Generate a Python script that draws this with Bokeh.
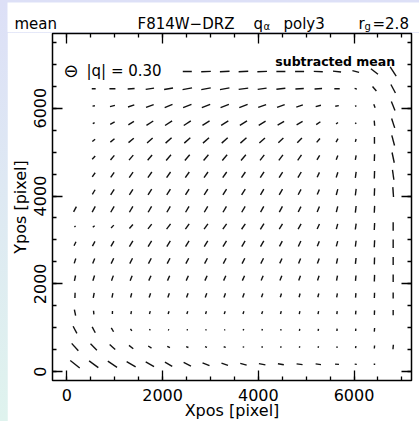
import math
import re
from bokeh.plotting import figure
from bokeh.layouts import column
from bokeh.models import Range1d, LinearAxis, SingleIntervalTicker, Label, ColumnDataSource
from bokeh.embed import file_html
from bokeh.resources import INLINE

# ---------------- data ----------------
XR = (-300, 7200)
YR = (-200, 7700)

x_centers = [170, 561, 952, 1343, 1734, 2125, 2516, 2907, 3298, 3689,
             4080, 4471, 4862, 5253, 5644, 6035, 6426, 6817]
y_centers = [170, 562, 954, 1346, 1738, 2130, 2522, 2914, 3306, 3698,
             4090, 4482, 4874, 5266, 5658, 6050, 6442, 6834]

N = None
# |q| per grid cell, rows from bottom (y_centers[0]) to top
q_rows = [
    [0.40, 0.38, 0.37, 0.35, 0.32, 0.28, 0.27, 0.25, 0.23, 0.22, 0.22, 0.20, 0.20, 0.18, 0.13, 0.07, 0.05, N],
    [0.33, 0.30, 0.25, 0.18, 0.13, 0.10, 0.08, 0.07, 0.07, 0.05, 0.05, 0.05, 0.05, 0.05, 0.05, 0.07, 0.10, 0.15],
    [0.27, 0.22, 0.15, 0.08, 0.05, 0.04, 0.04, 0.04, 0.04, 0.05, 0.05, 0.05, 0.07, 0.07, 0.08, 0.08, 0.12, N],
    [0.20, 0.12, 0.10, 0.10, 0.10, 0.10, 0.10, 0.10, 0.10, 0.10, 0.10, 0.10, 0.10, 0.10, 0.10, 0.12, 0.15, 0.18],
    [0.18, 0.17, 0.15, 0.15, 0.15, 0.15, 0.15, 0.15, 0.15, 0.15, 0.13, 0.13, 0.13, 0.13, 0.13, 0.15, 0.18, 0.20],
    [0.18, 0.18, 0.18, 0.18, 0.18, 0.18, 0.18, 0.18, 0.18, 0.18, 0.17, 0.17, 0.17, 0.17, 0.17, 0.18, 0.22, 0.25],
    [0.17, 0.18, 0.20, 0.20, 0.20, 0.20, 0.20, 0.20, 0.20, 0.20, 0.20, 0.18, 0.18, 0.18, 0.18, 0.20, 0.23, 0.27],
    [0.15, 0.18, 0.20, 0.22, 0.22, 0.22, 0.22, 0.22, 0.22, 0.22, 0.22, 0.20, 0.20, 0.18, 0.18, 0.20, 0.23, 0.28],
    [0.05, 0.08, 0.13, 0.18, 0.20, 0.22, 0.22, 0.22, 0.22, 0.22, 0.22, 0.20, 0.20, 0.18, 0.18, 0.20, 0.23, 0.28],
    [0.20, 0.22, 0.23, 0.23, 0.23, 0.23, 0.23, 0.23, 0.23, 0.23, 0.22, 0.22, 0.20, 0.20, 0.20, 0.22, 0.23, N],
    [N, 0.18, 0.22, 0.22, 0.23, 0.23, 0.23, 0.23, 0.23, 0.23, 0.22, 0.22, 0.20, 0.18, 0.20, 0.22, 0.25, 0.33],
    [N, 0.17, 0.20, 0.22, 0.23, 0.23, 0.23, 0.23, 0.23, 0.23, 0.23, 0.22, 0.22, 0.18, 0.18, 0.20, 0.25, 0.33],
    [N, 0.15, 0.20, 0.22, 0.23, 0.25, 0.25, 0.25, 0.25, 0.25, 0.23, 0.23, 0.22, 0.18, 0.15, 0.15, 0.23, 0.35],
    [N, 0.12, 0.18, 0.23, 0.25, 0.27, 0.27, 0.27, 0.27, 0.27, 0.25, 0.23, 0.22, 0.17, 0.13, 0.10, 0.22, 0.35],
    [N, 0.07, 0.17, 0.22, 0.27, 0.28, 0.28, 0.28, 0.28, 0.28, 0.27, 0.25, 0.23, 0.17, 0.08, 0.05, 0.17, 0.33],
    [N, 0.08, 0.17, 0.22, 0.27, 0.28, 0.30, 0.30, 0.30, 0.30, 0.28, 0.27, 0.23, 0.18, 0.12, 0.05, 0.13, 0.32],
    [N, 0.13, 0.20, 0.23, 0.28, 0.30, 0.32, 0.32, 0.32, 0.32, 0.30, 0.30, 0.28, 0.25, 0.18, 0.08, 0.20, 0.32],
    [N, N, N, N, N, N, 0.30, 0.32, 0.32, 0.32, 0.32, 0.30, 0.30, 0.30, 0.27, 0.23, 0.30, 0.37],
]
# position angle of q (degrees, counter-clockwise from +x), same layout
ang_rows = [
    [-38, -36, -34, -31, -30, -30, -26, -22, -19, -15, -12, -10, -8, -7, -5, -5, 0, N],
    [-48, -45, -42, -38, -32, -28, -22, -18, -15, -10, 0, 30, 60, 70, 80, 82, 85, 85],
    [-62, -62, -60, -55, -40, -20, 0, 20, 40, 60, 70, 75, 80, 80, 85, 85, 85, N],
    [-78, -85, 88, 80, 75, 72, 72, 72, 72, 72, 72, 75, 78, 78, 82, 85, 87, 90],
    [88, 80, 78, 75, 72, 70, 70, 70, 70, 70, 70, 72, 75, 75, 80, 85, 88, 90],
    [78, 72, 70, 68, 66, 66, 66, 66, 66, 66, 67, 68, 70, 72, 80, 85, 88, 90],
    [72, 68, 65, 63, 62, 62, 62, 62, 62, 63, 63, 65, 68, 70, 78, 84, 88, 90],
    [65, 62, 60, 58, 58, 58, 58, 58, 58, 60, 60, 62, 65, 68, 75, 83, 87, 90],
    [30, 40, 45, 50, 52, 53, 55, 55, 55, 56, 57, 58, 60, 65, 75, 82, 87, 90],
    [62, 62, 60, 60, 60, 60, 60, 60, 60, 60, 61, 62, 63, 68, 76, 83, 87, N],
    [N, 60, 58, 58, 58, 58, 58, 58, 58, 58, 60, 60, 62, 67, 75, 83, 88, -86],
    [N, 55, 55, 55, 55, 55, 55, 55, 55, 56, 57, 58, 60, 65, 72, 82, 88, -82],
    [N, 48, 50, 50, 50, 50, 50, 50, 50, 50, 52, 53, 55, 60, 70, 80, 88, -78],
    [N, 40, 40, 40, 42, 42, 42, 42, 42, 42, 42, 43, 45, 50, 60, 75, 90, -75],
    [N, 30, 30, 32, 33, 33, 33, 32, 32, 32, 32, 30, 30, 35, 40, 60, -85, -72],
    [N, 10, 15, 18, 20, 22, 22, 22, 22, 22, 20, 20, 18, 15, 10, 30, -70, -68],
    [N, 0, 0, 5, 8, 10, 10, 10, 10, 8, 8, 6, 4, 3, 0, -20, -50, -62],
    [N, N, N, N, N, N, 0, 2, 3, 3, 2, 0, 0, -2, -6, -15, -38, -57],
]

title_parts = ["mean", "F814W\u2212DRZ", "q", "\u03b1", "poly3", "r", "g", "=2.8"]
corner_text = "subtracted  mean"
ref_q = 0.30
ref_symbol = "\u2296"
ref_text = "|q| = %.2f" % ref_q
x_label = "Xpos [pixel]"
y_label = "Ypos [pixel]"

PX_PER_Q = 30.0  # whisker length in screen pixels per unit |q|
FONT = "DejaVu Sans"

# ---------------- whiskers ----------------
xs, ys, sz, an = [], [], [], []
for j, yv in enumerate(y_centers):
    for i, xv in enumerate(x_centers):
        q = q_rows[j][i]
        a = ang_rows[j][i]
        if q is None or a is None:
            continue
        xs.append(xv)
        ys.append(yv)
        sz.append(q * PX_PER_Q)
        an.append(math.radians(a))
src = ColumnDataSource(dict(x=xs, y=ys, size=sz, angle=an))

W = 412
p = figure(frame_width=359, frame_height=347,
           x_range=Range1d(*XR), y_range=Range1d(*YR),
           output_backend="svg", toolbar_location=None,
           min_border_left=44, min_border_right=9,
           min_border_top=1, min_border_bottom=41,
           background_fill_color="white", border_fill_color="white",
           outline_line_color="black", outline_line_width=1.5)
p.grid.visible = False

p.scatter(x="x", y="y", size="size", angle="angle", marker="dash",
          line_color="#111111", line_width=1.4, source=src)


def style_axis(ax, show_labels):
    ax.ticker = SingleIntervalTicker(interval=2000, num_minor_ticks=4)
    ax.axis_line_color = None
    ax.major_tick_in = 10
    ax.major_tick_out = 0
    ax.minor_tick_in = 4
    ax.minor_tick_out = 0
    ax.major_tick_line_color = "black"
    ax.minor_tick_line_color = "black"
    ax.major_tick_line_width = 1.3
    ax.minor_tick_line_width = 1.3
    if show_labels:
        ax.major_label_text_font = FONT
        ax.major_label_text_font_size = "16px"
        ax.major_label_text_color = "black"
        ax.axis_label_text_font = FONT
        ax.axis_label_text_font_size = "16px"
        ax.axis_label_text_font_style = "normal"
        ax.axis_label_text_color = "black"
    else:
        ax.major_label_text_font_size = "1px"
        ax.major_label_text_color = None
        ax.major_label_standoff = 0


xa = p.xaxis[0]
ya = p.yaxis[0]
style_axis(xa, True)
style_axis(ya, True)
xa.major_label_standoff = 8
xa.axis_label = x_label
xa.axis_label_standoff = -3
ya.major_label_standoff = 6
ya.major_label_orientation = "vertical"
ya.axis_label = y_label
ya.axis_label_standoff = 2

for loc in ("above", "right"):
    ax = LinearAxis()
    style_axis(ax, False)
    p.add_layout(ax, loc)

L0, R0 = XR
B0, T0 = YR
p.add_layout(Label(x=R0, y=T0, x_offset=-12, y_offset=-28, text=corner_text,
                   text_font=FONT, text_font_size="12.5px", text_font_style="bold",
                   text_color="black", text_align="right", text_baseline="alphabetic"))
p.add_layout(Label(x=L0, y=T0, x_offset=11, y_offset=-37, text=ref_symbol,
                   text_font=FONT, text_font_size="18px",
                   text_color="black", text_align="left", text_baseline="alphabetic"))
p.add_layout(Label(x=L0, y=T0, x_offset=34, y_offset=-37, text=ref_text,
                   text_font=FONT, text_font_size="15px",
                   text_color="black", text_align="left", text_baseline="alphabetic"))

# ---------------- title strip ----------------
TH = 30
t = figure(width=W, height=TH, x_range=Range1d(0, W), y_range=Range1d(0, TH),
           output_backend="svg", toolbar_location=None, min_border=0,
           x_axis_location=None, y_axis_location=None,
           background_fill_color="white", border_fill_color="white",
           outline_line_color=None, frame_align=False)
t.grid.visible = False
tx = [7, 130, 246, 256, 276, 351, 357, 365]
ty = [9, 9, 9, 6, 9, 9, 6, 9]
tsz = ["15px", "15px", "15px", "10px", "15px", "15px", "10px", "15px"]
for txt, x0, y0, fs in zip(title_parts, tx, ty, tsz):
    t.add_layout(Label(x=x0, y=y0, text=txt, text_font=FONT, text_font_size=fs,
                       text_color="black", text_align="left", text_baseline="alphabetic"))

layout = column(t, p, spacing=0)

html = file_html(layout, INLINE)
head, sep, rest = html.partition("</head>")
rest = re.sub(
    r"<body[^>]*>",
    '<body style="padding:2px 0 0 7px; margin:0; overflow:hidden; box-sizing:border-box; '
    'background: linear-gradient(180deg, #dde0f7 0%, #dff3ee 100%);">',
    rest, count=1)
html = head + sep + rest
open("out.html", "w").write(html)
